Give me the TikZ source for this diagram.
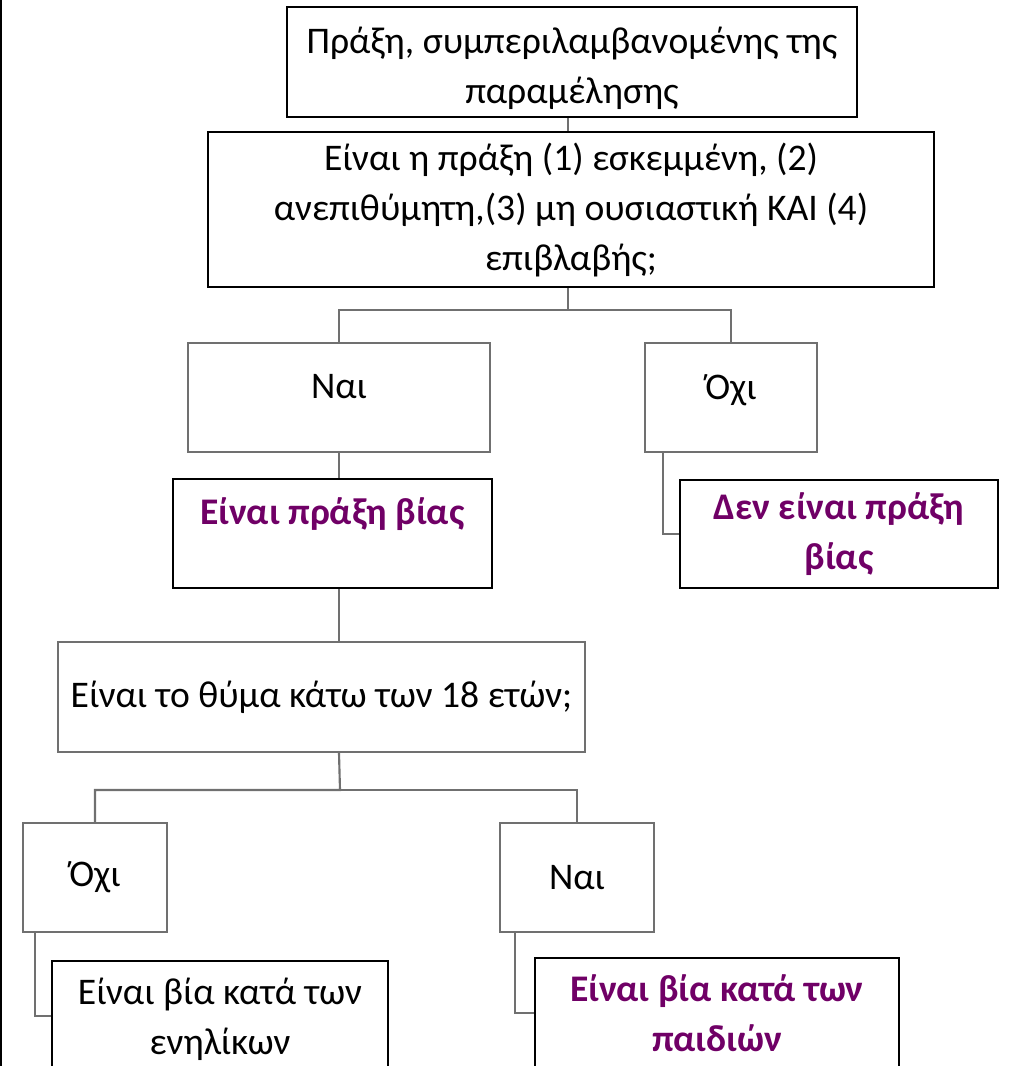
\documentclass[tikz,border=0pt]{standalone}
\usepackage{fontspec}
\setmainfont{Carlito}
\usepackage{xcolor}
\usepackage{tikz}
\usetikzlibrary{positioning}
\definecolor{verdictpurple}{RGB}{112, 0, 102}
\definecolor{linkgrey}{RGB}{112, 112, 112}
\newcommand{\topgap}[1]{\rule{0pt}{#1}}
\tikzset{
  boxsize/.style 2 args={minimum width=#1*0.75pt, minimum height=#2*0.75pt},
  darkbox/.style={draw=black, line width=2.2pt, align=center, inner sep=0pt},
  greybox/.style={draw=linkgrey, line width=1.6pt, align=center, inner sep=0pt},
  verdict/.style={text=verdictpurple, font=\fontsize{28.2}{37.5}\selectfont\bfseries},
  link/.style={draw=linkgrey, line width=1.6pt},
}

\begin{document}
\begin{tikzpicture}[x=0.75pt, y=-0.75pt, font=\fontsize{28.2}{37.5}\selectfont]
  \clip (0,0) rectangle (1010,1066);
  \draw[line width=1.6pt] (1,0) -- (1,1066);

  % question boxes
  \node[darkbox, boxsize={570}{110}] (act) at (572,62)
       {\topgap{30pt}Πράξη, συμπεριλαμβανομένης της\\παραμέλησης};
  \node[darkbox, boxsize={726}{155}] (q1) at (571,209.5)
       {Είναι η πράξη (1) εσκεμμένη, (2)\\ανεπιθύμητη,(3) μη ουσιαστική ΚΑΙ (4)\\επιβλαβής;};
  \node[greybox, boxsize={302}{109}, text depth=16pt] (yes1) at (339,397.5) {Ναι};
  \node[greybox, boxsize={172}{109}, text depth=16pt] (no1) at (731,397.5) {Όχι};
  \node[darkbox, verdict, boxsize={319}{109}, text depth=33pt] (viol) at (332.5,533.5)
       {Είναι πράξη βίας};
  \node[darkbox, verdict, boxsize={318}{108}] (noviol) at (839,534)
       {Δεν είναι πράξη\\βίας};
  \node[greybox, boxsize={527}{110}] (q2) at (321.5,697)
       {Είναι το θύμα κάτω των 18 ετών;};
  \node[greybox, boxsize={144}{109}] (no2) at (95,877.5) {Όχι};
  \node[greybox, boxsize={154}{109}] (yes2) at (577,877.5) {Ναι};
  \node[darkbox, boxsize={336}{110}] (adult) at (220,1016)
       {\topgap{25pt}Είναι βία κατά των\\ενηλίκων};
  \node[darkbox, verdict, boxsize={364}{110}] (child) at (717,1013)
       {Είναι βία κατά των\\παιδιών};

  % connectors
  \draw[link] (act.south -| 568,0) -- (q1.north -| 568,0);
  \draw[link] (q1.south -| 568,0) -- (568,310) -| (yes1.north);
  \draw[link] (568,310) -| (no1.north);
  \draw[link] (yes1.south) -- (yes1.south |- viol.north);
  \draw[link] ([xshift=19*0.75pt]no1.south west) |- (noviol.west);
  \draw[link] (yes1.south |- viol.south) -- (yes1.south |- q2.north);
  \draw[link] (yes1.south |- q2.south) -- (340,790) -| (no2.north);
  \draw[link] (340,790) -| (yes2.north);
  \draw[link] ([xshift=13*0.75pt]no2.south west) |- (adult.west);
  \draw[link] ([xshift=16*0.75pt]yes2.south west) |- (child.west);
\end{tikzpicture}
\end{document}
